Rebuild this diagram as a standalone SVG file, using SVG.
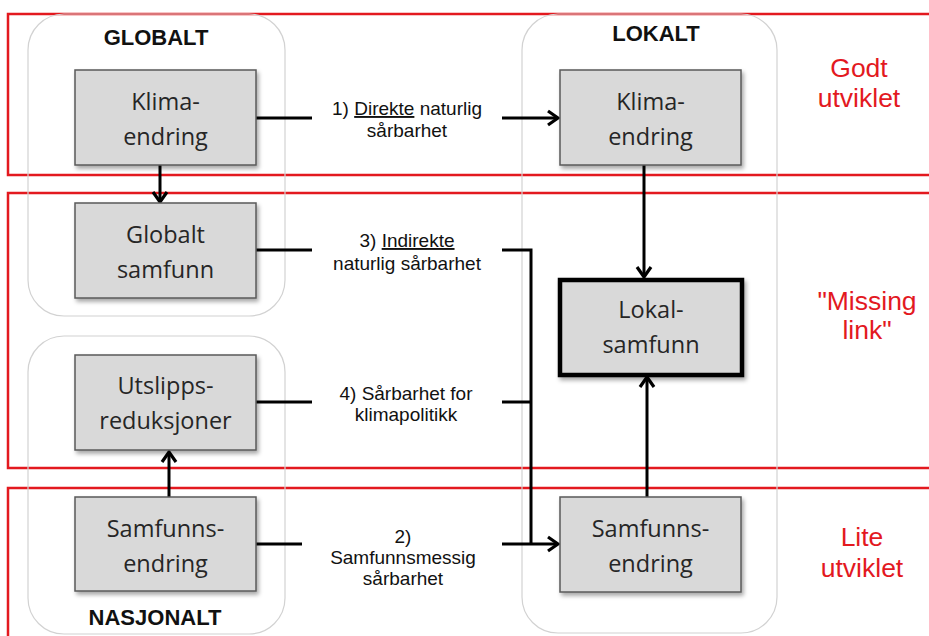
<svg xmlns="http://www.w3.org/2000/svg" width="929" height="636" viewBox="0 0 929 636">
<defs>
<style>
.band{fill:none;stroke:#e3191f;stroke-width:2.5}
.region{fill:none;stroke:#d2d2d2;stroke-width:1.2}
.box{fill:#d9d9d9;stroke:#5a5a5a;stroke-width:1.5}
.boxb{fill:#d9d9d9;stroke:#000;stroke-width:4.5}
.bt{font-family:"Open Sans","Noto Sans",sans-serif;font-size:23.5px;fill:#262626;text-anchor:middle}
.lt{font-family:"Liberation Sans",Arial,sans-serif;font-size:19px;fill:#111;text-anchor:middle}
.hd{font-family:"Liberation Sans",Arial,sans-serif;font-size:22px;font-weight:bold;fill:#111;text-anchor:middle}
.rt{font-family:"Liberation Sans",Arial,sans-serif;font-size:26.5px;fill:#e3191f;text-anchor:middle}
.c{fill:none;stroke:#000;stroke-width:3}
.ca{fill:none;stroke:#000;stroke-width:3;marker-end:url(#ah)}
</style>
<marker id="ah" viewBox="0 0 14 18" refX="12" refY="9" markerWidth="14" markerHeight="18" markerUnits="userSpaceOnUse" orient="auto">
<path d="M2,2 L12,9 L2,16" fill="none" stroke="#000" stroke-width="3.2" stroke-linejoin="miter"/>
</marker>
<filter id="sh" x="-10%" y="-10%" width="125%" height="130%">
<feDropShadow dx="2" dy="3" stdDeviation="2" flood-color="#000" flood-opacity="0.35"/>
</filter>
</defs>
<rect width="929" height="636" fill="#fff"/>

<g id="bands">
<rect class="band" x="8" y="14" width="940" height="161"/>
<rect class="band" x="8" y="193" width="940" height="275"/>
<rect class="band" x="8" y="488" width="940" height="170"/>
</g>

<g id="regions">
<g id="region-globalt">
<rect class="region" x="28" y="14" width="257" height="302" rx="36" ry="36"/>
<text class="hd" x="156" y="45">GLOBALT</text>
</g>
<g id="region-nasjonalt">
<rect class="region" x="28" y="336" width="257" height="298" rx="36" ry="36"/>
<text class="hd" x="155" y="625">NASJONALT</text>
</g>
<g id="region-lokalt">
<rect class="region" x="522" y="14" width="255" height="619" rx="36" ry="36"/>
<text class="hd" x="656" y="41">LOKALT</text>
</g>
</g>

<g id="connectors">
<path class="c" d="M256,118 H312"/>
<path class="ca" d="M502,118 H558"/>
<path class="c" d="M256,250 H312"/>
<path class="c" d="M502,250 H531 V544"/>
<path class="c" d="M256,402 H312"/>
<path class="c" d="M502,402 H531"/>
<path class="c" d="M256,544 H302"/>
<path class="ca" d="M502,544 H558"/>
<path class="ca" d="M160,165 V202"/>
<path class="ca" d="M169,497 V452"/>
<path class="ca" d="M644,165 V277"/>
<path class="ca" d="M647,497 V377"/>
<g id="connector-labels">
<text class="lt" x="407" y="115">1) <tspan text-decoration="underline">Direkte</tspan> naturlig</text>
<text class="lt" x="407" y="137">sårbarhet</text>
<text class="lt" x="407" y="247">3) <tspan text-decoration="underline">Indirekte</tspan></text>
<text class="lt" x="407" y="270">naturlig sårbarhet</text>
<text class="lt" x="406" y="400">4) Sårbarhet for</text>
<text class="lt" x="406" y="421">klimapolitikk</text>
<text class="lt" x="403" y="543">2)</text>
<text class="lt" x="403" y="564">Samfunnsmessig</text>
<text class="lt" x="403" y="585">sårbarhet</text>
</g>
</g>

<g id="node-klima-global">
<rect class="box" x="75" y="70" width="181" height="95" filter="url(#sh)"/>
<text class="bt" x="165.5" y="110">Klima-</text>
<text class="bt" x="165.5" y="145">endring</text>
</g>
<g id="node-globalt-samfunn">
<rect class="box" x="75" y="203" width="181" height="95" filter="url(#sh)"/>
<text class="bt" x="165.5" y="243">Globalt</text>
<text class="bt" x="165.5" y="278">samfunn</text>
</g>
<g id="node-utslipp">
<rect class="box" x="75" y="355" width="181" height="95" filter="url(#sh)"/>
<text class="bt" x="165.5" y="394">Utslipps-</text>
<text class="bt" x="165.5" y="429">reduksjoner</text>
</g>
<g id="node-samfunn-nasjonalt">
<rect class="box" x="75" y="497" width="181" height="94" filter="url(#sh)"/>
<text class="bt" x="165.5" y="537">Samfunns-</text>
<text class="bt" x="165.5" y="572">endring</text>
</g>
<g id="node-klima-lokalt">
<rect class="box" x="560" y="70" width="181" height="95" filter="url(#sh)"/>
<text class="bt" x="650.5" y="110">Klima-</text>
<text class="bt" x="650.5" y="145">endring</text>
</g>
<g id="node-lokalsamfunn">
<rect class="boxb" x="560" y="280" width="182" height="95" filter="url(#sh)"/>
<text class="bt" x="651" y="318">Lokal-</text>
<text class="bt" x="651" y="353">samfunn</text>
</g>
<g id="node-samfunn-lokalt">
<rect class="box" x="560" y="497" width="181" height="95" filter="url(#sh)"/>
<text class="bt" x="650.5" y="537">Samfunns-</text>
<text class="bt" x="650.5" y="572">endring</text>
</g>

<g id="band-labels">
<text class="rt" x="859" y="77">Godt</text>
<text class="rt" x="859" y="107">utviklet</text>
<text class="rt" x="867" y="310">"Missing</text>
<text class="rt" x="867" y="339">link"</text>
<text class="rt" x="862" y="546">Lite</text>
<text class="rt" x="862" y="577">utviklet</text>
</g>
</svg>
